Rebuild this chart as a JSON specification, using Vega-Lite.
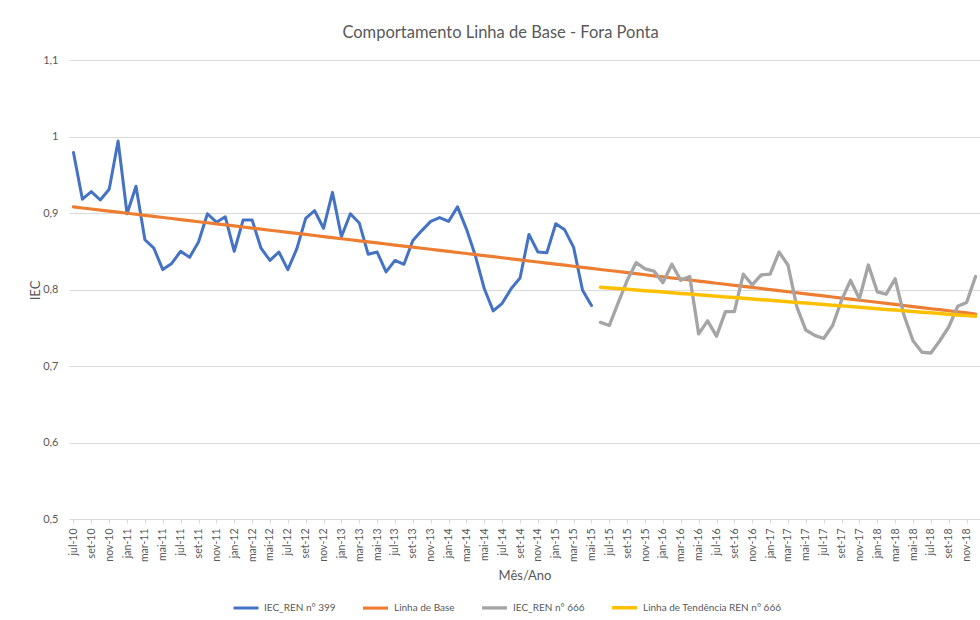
{
  "$schema": "https://vega.github.io/schema/vega-lite/v6.json",
  "width": 911,
  "height": 459,
  "autosize": {"type": "none"},
  "padding": {"left": 69, "top": 60, "right": 0, "bottom": 101},
  "background": "white",
  "config": {"font": "Lato", "view": {"stroke": null}},
  "title": {"text": "Comportamento Linha de Base - Fora Ponta", "fontSize": 16.5, "fontWeight": "normal", "color": "#595959", "anchor": "middle", "dx": -24, "offset": 13},
  "data": {"values": [
    {"m": "jul-10", "IEC_REN n° 399": 0.979, "Linha de Base": 0.908},
    {"m": "ago-10", "IEC_REN n° 399": 0.918, "Linha de Base": 0.9066},
    {"m": "set-10", "IEC_REN n° 399": 0.928, "Linha de Base": 0.9052},
    {"m": "out-10", "IEC_REN n° 399": 0.917, "Linha de Base": 0.9038},
    {"m": "nov-10", "IEC_REN n° 399": 0.931, "Linha de Base": 0.9025},
    {"m": "dez-10", "IEC_REN n° 399": 0.994, "Linha de Base": 0.9011},
    {"m": "jan-11", "IEC_REN n° 399": 0.899, "Linha de Base": 0.8997},
    {"m": "fev-11", "IEC_REN n° 399": 0.935, "Linha de Base": 0.8983},
    {"m": "mar-11", "IEC_REN n° 399": 0.865, "Linha de Base": 0.8969},
    {"m": "abr-11", "IEC_REN n° 399": 0.854, "Linha de Base": 0.8955},
    {"m": "mai-11", "IEC_REN n° 399": 0.826, "Linha de Base": 0.8941},
    {"m": "jun-11", "IEC_REN n° 399": 0.834, "Linha de Base": 0.8928},
    {"m": "jul-11", "IEC_REN n° 399": 0.850, "Linha de Base": 0.8914},
    {"m": "ago-11", "IEC_REN n° 399": 0.842, "Linha de Base": 0.8900},
    {"m": "set-11", "IEC_REN n° 399": 0.862, "Linha de Base": 0.8886},
    {"m": "out-11", "IEC_REN n° 399": 0.899, "Linha de Base": 0.8872},
    {"m": "nov-11", "IEC_REN n° 399": 0.888, "Linha de Base": 0.8858},
    {"m": "dez-11", "IEC_REN n° 399": 0.895, "Linha de Base": 0.8844},
    {"m": "jan-12", "IEC_REN n° 399": 0.850, "Linha de Base": 0.8831},
    {"m": "fev-12", "IEC_REN n° 399": 0.891, "Linha de Base": 0.8817},
    {"m": "mar-12", "IEC_REN n° 399": 0.891, "Linha de Base": 0.8803},
    {"m": "abr-12", "IEC_REN n° 399": 0.854, "Linha de Base": 0.8789},
    {"m": "mai-12", "IEC_REN n° 399": 0.838, "Linha de Base": 0.8775},
    {"m": "jun-12", "IEC_REN n° 399": 0.849, "Linha de Base": 0.8761},
    {"m": "jul-12", "IEC_REN n° 399": 0.826, "Linha de Base": 0.8747},
    {"m": "ago-12", "IEC_REN n° 399": 0.853, "Linha de Base": 0.8734},
    {"m": "set-12", "IEC_REN n° 399": 0.893, "Linha de Base": 0.8720},
    {"m": "out-12", "IEC_REN n° 399": 0.903, "Linha de Base": 0.8706},
    {"m": "nov-12", "IEC_REN n° 399": 0.880, "Linha de Base": 0.8692},
    {"m": "dez-12", "IEC_REN n° 399": 0.927, "Linha de Base": 0.8678},
    {"m": "jan-13", "IEC_REN n° 399": 0.869, "Linha de Base": 0.8664},
    {"m": "fev-13", "IEC_REN n° 399": 0.899, "Linha de Base": 0.8650},
    {"m": "mar-13", "IEC_REN n° 399": 0.887, "Linha de Base": 0.8636},
    {"m": "abr-13", "IEC_REN n° 399": 0.846, "Linha de Base": 0.8623},
    {"m": "mai-13", "IEC_REN n° 399": 0.849, "Linha de Base": 0.8609},
    {"m": "jun-13", "IEC_REN n° 399": 0.823, "Linha de Base": 0.8595},
    {"m": "jul-13", "IEC_REN n° 399": 0.838, "Linha de Base": 0.8581},
    {"m": "ago-13", "IEC_REN n° 399": 0.833, "Linha de Base": 0.8567},
    {"m": "set-13", "IEC_REN n° 399": 0.864, "Linha de Base": 0.8553},
    {"m": "out-13", "IEC_REN n° 399": 0.877, "Linha de Base": 0.8539},
    {"m": "nov-13", "IEC_REN n° 399": 0.889, "Linha de Base": 0.8526},
    {"m": "dez-13", "IEC_REN n° 399": 0.894, "Linha de Base": 0.8512},
    {"m": "jan-14", "IEC_REN n° 399": 0.889, "Linha de Base": 0.8498},
    {"m": "fev-14", "IEC_REN n° 399": 0.908, "Linha de Base": 0.8484},
    {"m": "mar-14", "IEC_REN n° 399": 0.879, "Linha de Base": 0.8470},
    {"m": "abr-14", "IEC_REN n° 399": 0.844, "Linha de Base": 0.8456},
    {"m": "mai-14", "IEC_REN n° 399": 0.801, "Linha de Base": 0.8442},
    {"m": "jun-14", "IEC_REN n° 399": 0.772, "Linha de Base": 0.8429},
    {"m": "jul-14", "IEC_REN n° 399": 0.782, "Linha de Base": 0.8415},
    {"m": "ago-14", "IEC_REN n° 399": 0.801, "Linha de Base": 0.8401},
    {"m": "set-14", "IEC_REN n° 399": 0.815, "Linha de Base": 0.8387},
    {"m": "out-14", "IEC_REN n° 399": 0.872, "Linha de Base": 0.8373},
    {"m": "nov-14", "IEC_REN n° 399": 0.849, "Linha de Base": 0.8359},
    {"m": "dez-14", "IEC_REN n° 399": 0.848, "Linha de Base": 0.8345},
    {"m": "jan-15", "IEC_REN n° 399": 0.886, "Linha de Base": 0.8332},
    {"m": "fev-15", "IEC_REN n° 399": 0.878, "Linha de Base": 0.8318},
    {"m": "mar-15", "IEC_REN n° 399": 0.855, "Linha de Base": 0.8304},
    {"m": "abr-15", "IEC_REN n° 399": 0.799, "Linha de Base": 0.8290},
    {"m": "mai-15", "IEC_REN n° 399": 0.779, "Linha de Base": 0.8276},
    {"m": "jun-15", "Linha de Base": 0.8262, "IEC_REN n° 666": 0.757, "Linha de Tendência REN n° 666": 0.8030},
    {"m": "jul-15", "Linha de Base": 0.8248, "IEC_REN n° 666": 0.753, "Linha de Tendência REN n° 666": 0.8021},
    {"m": "ago-15", "Linha de Base": 0.8235, "IEC_REN n° 666": 0.783, "Linha de Tendência REN n° 666": 0.8012},
    {"m": "set-15", "Linha de Base": 0.8221, "IEC_REN n° 666": 0.812, "Linha de Tendência REN n° 666": 0.8003},
    {"m": "out-15", "Linha de Base": 0.8207, "IEC_REN n° 666": 0.835, "Linha de Tendência REN n° 666": 0.7994},
    {"m": "nov-15", "Linha de Base": 0.8193, "IEC_REN n° 666": 0.827, "Linha de Tendência REN n° 666": 0.7985},
    {"m": "dez-15", "Linha de Base": 0.8179, "IEC_REN n° 666": 0.824, "Linha de Tendência REN n° 666": 0.7976},
    {"m": "jan-16", "Linha de Base": 0.8165, "IEC_REN n° 666": 0.809, "Linha de Tendência REN n° 666": 0.7967},
    {"m": "fev-16", "Linha de Base": 0.8151, "IEC_REN n° 666": 0.833, "Linha de Tendência REN n° 666": 0.7958},
    {"m": "mar-16", "Linha de Base": 0.8138, "IEC_REN n° 666": 0.812, "Linha de Tendência REN n° 666": 0.7949},
    {"m": "abr-16", "Linha de Base": 0.8124, "IEC_REN n° 666": 0.817, "Linha de Tendência REN n° 666": 0.7940},
    {"m": "mai-16", "Linha de Base": 0.8110, "IEC_REN n° 666": 0.742, "Linha de Tendência REN n° 666": 0.7930},
    {"m": "jun-16", "Linha de Base": 0.8096, "IEC_REN n° 666": 0.759, "Linha de Tendência REN n° 666": 0.7921},
    {"m": "jul-16", "Linha de Base": 0.8082, "IEC_REN n° 666": 0.739, "Linha de Tendência REN n° 666": 0.7912},
    {"m": "ago-16", "Linha de Base": 0.8068, "IEC_REN n° 666": 0.771, "Linha de Tendência REN n° 666": 0.7903},
    {"m": "set-16", "Linha de Base": 0.8054, "IEC_REN n° 666": 0.771, "Linha de Tendência REN n° 666": 0.7894},
    {"m": "out-16", "Linha de Base": 0.8040, "IEC_REN n° 666": 0.820, "Linha de Tendência REN n° 666": 0.7885},
    {"m": "nov-16", "Linha de Base": 0.8027, "IEC_REN n° 666": 0.806, "Linha de Tendência REN n° 666": 0.7876},
    {"m": "dez-16", "Linha de Base": 0.8013, "IEC_REN n° 666": 0.819, "Linha de Tendência REN n° 666": 0.7867},
    {"m": "jan-17", "Linha de Base": 0.7999, "IEC_REN n° 666": 0.820, "Linha de Tendência REN n° 666": 0.7858},
    {"m": "fev-17", "Linha de Base": 0.7985, "IEC_REN n° 666": 0.849, "Linha de Tendência REN n° 666": 0.7849},
    {"m": "mar-17", "Linha de Base": 0.7971, "IEC_REN n° 666": 0.832, "Linha de Tendência REN n° 666": 0.7840},
    {"m": "abr-17", "Linha de Base": 0.7957, "IEC_REN n° 666": 0.777, "Linha de Tendência REN n° 666": 0.7831},
    {"m": "mai-17", "Linha de Base": 0.7943, "IEC_REN n° 666": 0.747, "Linha de Tendência REN n° 666": 0.7822},
    {"m": "jun-17", "Linha de Base": 0.7930, "IEC_REN n° 666": 0.740, "Linha de Tendência REN n° 666": 0.7813},
    {"m": "jul-17", "Linha de Base": 0.7916, "IEC_REN n° 666": 0.736, "Linha de Tendência REN n° 666": 0.7804},
    {"m": "ago-17", "Linha de Base": 0.7902, "IEC_REN n° 666": 0.753, "Linha de Tendência REN n° 666": 0.7795},
    {"m": "set-17", "Linha de Base": 0.7888, "IEC_REN n° 666": 0.786, "Linha de Tendência REN n° 666": 0.7786},
    {"m": "out-17", "Linha de Base": 0.7874, "IEC_REN n° 666": 0.812, "Linha de Tendência REN n° 666": 0.7777},
    {"m": "nov-17", "Linha de Base": 0.7860, "IEC_REN n° 666": 0.788, "Linha de Tendência REN n° 666": 0.7768},
    {"m": "dez-17", "Linha de Base": 0.7846, "IEC_REN n° 666": 0.832, "Linha de Tendência REN n° 666": 0.7759},
    {"m": "jan-18", "Linha de Base": 0.7833, "IEC_REN n° 666": 0.797, "Linha de Tendência REN n° 666": 0.7749},
    {"m": "fev-18", "Linha de Base": 0.7819, "IEC_REN n° 666": 0.794, "Linha de Tendência REN n° 666": 0.7740},
    {"m": "mar-18", "Linha de Base": 0.7805, "IEC_REN n° 666": 0.814, "Linha de Tendência REN n° 666": 0.7731},
    {"m": "abr-18", "Linha de Base": 0.7791, "IEC_REN n° 666": 0.766, "Linha de Tendência REN n° 666": 0.7722},
    {"m": "mai-18", "Linha de Base": 0.7777, "IEC_REN n° 666": 0.733, "Linha de Tendência REN n° 666": 0.7713},
    {"m": "jun-18", "Linha de Base": 0.7763, "IEC_REN n° 666": 0.718, "Linha de Tendência REN n° 666": 0.7704},
    {"m": "jul-18", "Linha de Base": 0.7749, "IEC_REN n° 666": 0.717, "Linha de Tendência REN n° 666": 0.7695},
    {"m": "ago-18", "Linha de Base": 0.7736, "IEC_REN n° 666": 0.733, "Linha de Tendência REN n° 666": 0.7686},
    {"m": "set-18", "Linha de Base": 0.7722, "IEC_REN n° 666": 0.751, "Linha de Tendência REN n° 666": 0.7677},
    {"m": "out-18", "Linha de Base": 0.7708, "IEC_REN n° 666": 0.778, "Linha de Tendência REN n° 666": 0.7668},
    {"m": "nov-18", "Linha de Base": 0.7694, "IEC_REN n° 666": 0.783, "Linha de Tendência REN n° 666": 0.7659},
    {"m": "dez-18", "Linha de Base": 0.7680, "IEC_REN n° 666": 0.817, "Linha de Tendência REN n° 666": 0.7650}
  ]},
  "transform": [
    {"fold": ["IEC_REN n° 399", "Linha de Base", "IEC_REN n° 666", "Linha de Tendência REN n° 666"], "as": ["s", "v"]}
  ],
  "mark": {"type": "line", "interpolate": "linear", "strokeCap": "round", "strokeJoin": "round"},
  "encoding": {
    "x": {
      "field": "m", "type": "ordinal", "sort": null,
      "scale": {"type": "point", "padding": 0.5},
      "axis": {
        "values": ["jul-10","set-10","nov-10","jan-11","mar-11","mai-11","jul-11","set-11","nov-11","jan-12","mar-12","mai-12","jul-12","set-12","nov-12","jan-13","mar-13","mai-13","jul-13","set-13","nov-13","jan-14","mar-14","mai-14","jul-14","set-14","nov-14","jan-15","mar-15","mai-15","jul-15","set-15","nov-15","jan-16","mar-16","mai-16","jul-16","set-16","nov-16","jan-17","mar-17","mai-17","jul-17","set-17","nov-17","jan-18","mar-18","mai-18","jul-18","set-18","nov-18"],
        "labelAngle": -90, "labelFontSize": 10.5, "labelColor": "#595959", "labelPadding": 5,
        "ticks": true, "tickSize": 4, "tickColor": "#d9d9d9",
        "domain": true, "domainColor": "#d9d9d9", "domainWidth": 1,
        "grid": false,
        "title": "Mês/Ano", "titleFontSize": 13, "titleFontWeight": "normal", "titleColor": "#595959",
        "titleY": 56, "titleBaseline": "middle"
      }
    },
    "y": {
      "field": "v", "type": "quantitative",
      "scale": {"domain": [0.5, 1.1], "nice": false, "zero": false},
      "axis": {
        "values": [0.5, 0.6, 0.7, 0.8, 0.9, 1.0, 1.1],
        "labelExpr": "replace(format(datum.value, '.1~f'), '.', ',')",
        "labelFontSize": 11, "labelColor": "#595959", "labelPadding": 11,
        "ticks": false, "domain": false,
        "grid": true, "gridColor": "#d9d9d9", "gridWidth": 1,
        "title": "IEC", "titleFontSize": 13, "titleFontWeight": "normal", "titleColor": "#595959",
        "titleX": -34, "titleY": 230, "titleAngle": -90, "titleAlign": "center", "titleBaseline": "middle"
      }
    },
    "color": {
      "field": "s", "type": "nominal",
      "scale": {
        "domain": ["IEC_REN n° 399", "Linha de Base", "IEC_REN n° 666", "Linha de Tendência REN n° 666"],
        "range": ["#4472C4", "#ED7D31", "#A5A5A5", "#FFC000"]
      },
      "legend": {
        "orient": "none", "legendX": 163, "legendY": 533, "direction": "horizontal",
        "title": null, "symbolType": "stroke", "symbolSize": 625, "symbolStrokeWidth": 3,
        "labelFontSize": 10, "labelColor": "#595959", "labelOffset": 4, "columnPadding": 20
      }
    },
    "strokeWidth": {
      "field": "s", "type": "nominal",
      "scale": {
        "domain": ["IEC_REN n° 399", "Linha de Base", "IEC_REN n° 666", "Linha de Tendência REN n° 666"],
        "range": [3, 3.5, 3, 3]
      },
      "legend": null
    }
  }
}
